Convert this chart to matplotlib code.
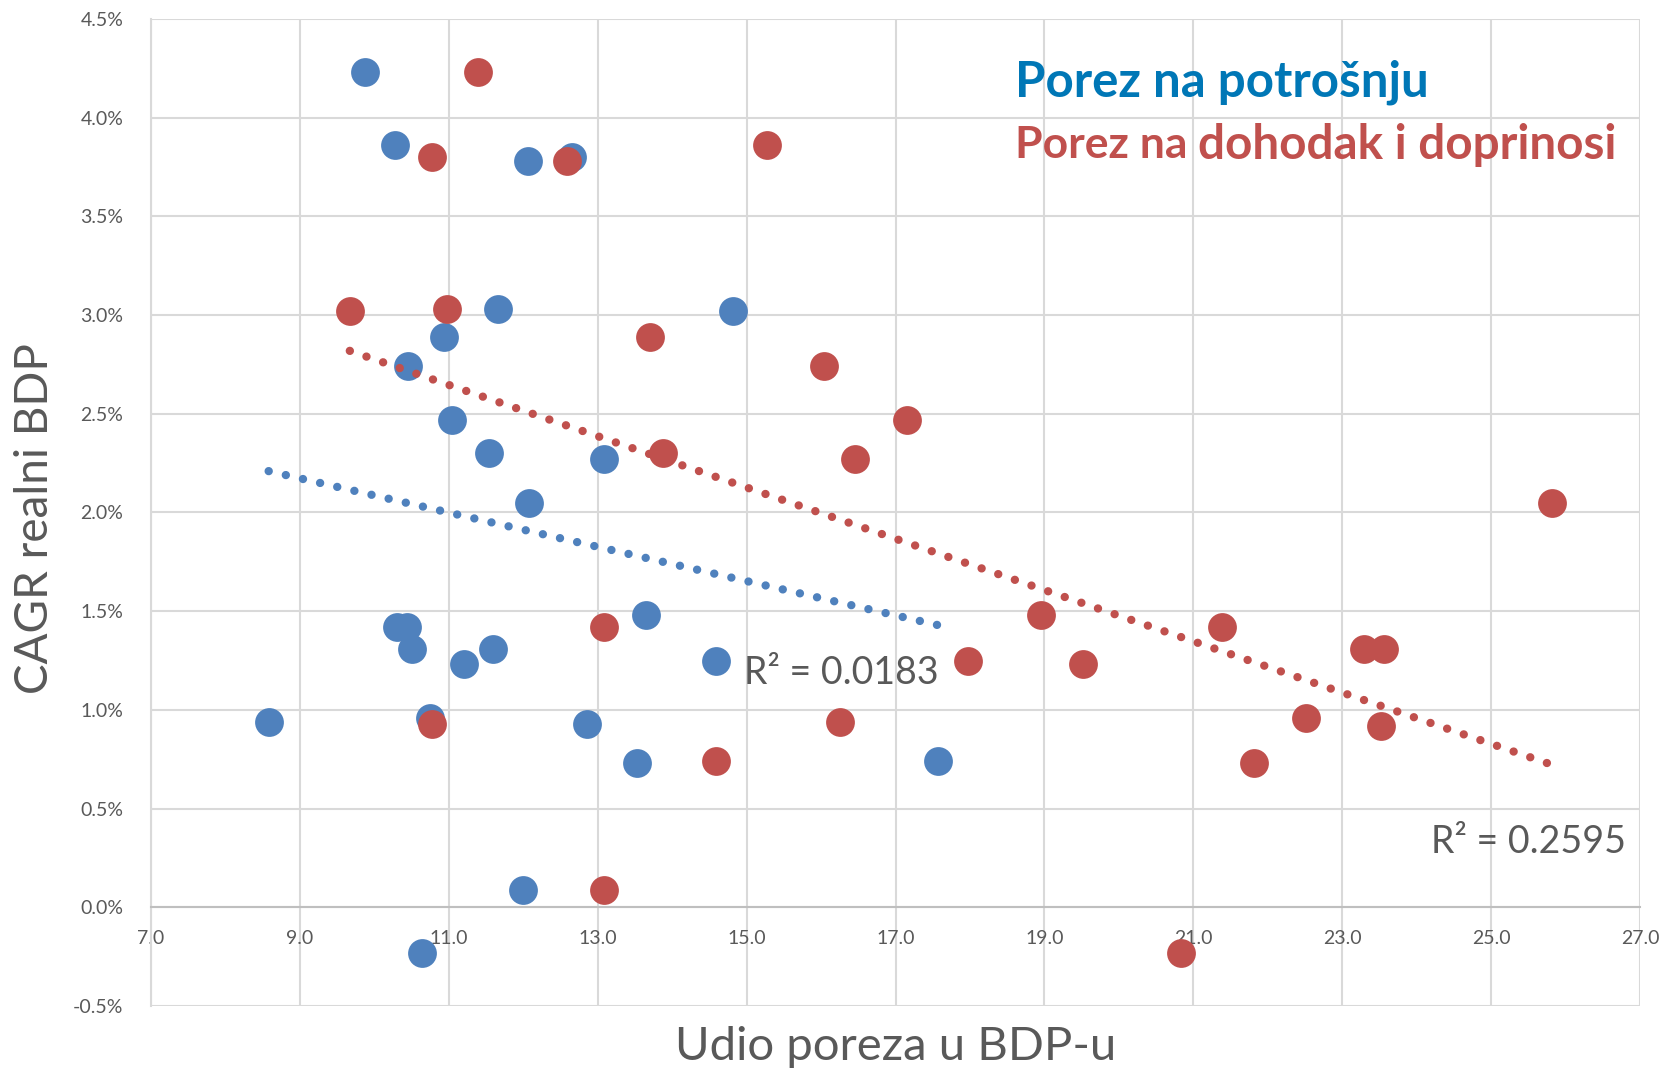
import numpy as np
import matplotlib.pyplot as plt
from matplotlib.ticker import FuncFormatter, MultipleLocator

plt.rcParams['font.family'] = ['Lato', 'DejaVu Sans']

# udio poreza u BDP-u (x) i CAGR realnog BDP-a u % (y)
potrosnja_x = [9.87, 10.28, 12.06, 12.65, 11.66, 14.82, 10.94, 10.45, 11.04, 11.54,
               13.08, 12.08, 10.31, 10.44, 10.50, 11.59, 11.21, 13.65, 14.59, 8.58,
               10.75, 12.85, 13.53, 17.57, 11.99, 10.64]
potrosnja_y = [4.23, 3.86, 3.78, 3.80, 3.03, 3.02, 2.89, 2.74, 2.47, 2.30,
               2.27, 2.05, 1.42, 1.42, 1.31, 1.31, 1.23, 1.48, 1.25, 0.94,
               0.96, 0.93, 0.73, 0.74, 0.09, -0.23]

dohodak_x = [11.39, 10.77, 12.59, 15.27, 9.67, 10.98, 13.70, 16.04, 17.16, 13.88,
             16.46, 25.82, 18.95, 13.09, 21.38, 23.29, 23.56, 17.97, 19.52, 16.26,
             10.77, 22.52, 23.52, 14.59, 21.82, 13.09, 20.84]
dohodak_y = [4.23, 3.80, 3.78, 3.86, 3.02, 3.03, 2.89, 2.74, 2.47, 2.30,
             2.27, 2.05, 1.48, 1.42, 1.42, 1.31, 1.31, 1.25, 1.23, 0.94,
             0.93, 0.96, 0.92, 0.74, 0.73, 0.09, -0.23]

x_ticks = [7, 9, 11, 13, 15, 17, 19, 21, 23, 25, 27]
r2_labels = ['R² = 0.0183', 'R² = 0.2595']

plava = '#4F81BD'
crvena = '#C0504D'
siva = '#595959'
mreza = '#D9D9D9'

fig = plt.figure(figsize=(16.67, 10.71), dpi=100)
ax = fig.add_axes([0.0906, 0.0607, 0.8932, 0.9216])

ax.set_xlim(7, 27)
ax.set_ylim(-0.5, 4.5)
ax.set_xticks(x_ticks)
ax.yaxis.set_major_locator(MultipleLocator(0.5))
ax.xaxis.set_major_formatter(FuncFormatter(lambda v, p: '%.1f' % v))
ax.yaxis.set_major_formatter(FuncFormatter(lambda v, p: '%.1f%%' % v))
ax.grid(True, color=mreza, linewidth=1.5)
ax.set_axisbelow(True)

for s in ['top', 'right']:
    ax.spines[s].set_visible(False)
ax.spines['left'].set_color(mreza)
ax.spines['left'].set_linewidth(1.5)
ax.spines['bottom'].set_position(('data', 0))
ax.spines['bottom'].set_color('#BFBFBF')
ax.spines['bottom'].set_linewidth(1.5)
ax.tick_params(length=0, labelsize=14, labelcolor=siva)
ax.tick_params(axis='y', pad=20)
ax.tick_params(axis='x', pad=16)

ax.scatter(potrosnja_x, potrosnja_y, s=430, color=plava, linewidths=0, zorder=3)
ax.scatter(dohodak_x, dohodak_y, s=430, color=crvena, linewidths=0, zorder=4)

# linearni trend
for xs, ys, c in [(potrosnja_x, potrosnja_y, plava), (dohodak_x, dohodak_y, crvena)]:
    k, b = np.polyfit(xs, ys, 1)
    xt = np.array([min(xs), max(xs)])
    ax.plot(xt, k * xt + b, color=c, linewidth=6, linestyle=(0, (0.01, 2.1)),
            dash_capstyle='round', zorder=5)

ax.text(14.96, 1.185, r2_labels[0], fontsize=27, color=siva, va='center', zorder=6)
ax.text(24.19, 0.33, r2_labels[1], fontsize=27, color=siva, va='center', zorder=6)

ax.text(18.6, 4.18, 'Porez na potrošnju', fontsize=35.5, fontweight='bold',
        color='#0077B6', va='center', zorder=6)
prvi_txt = ax.text(18.6, 3.86, 'Porez na ', fontsize=32, fontweight='bold',
                   color=crvena, va='center', zorder=6)
fig.canvas.draw()
prvi = prvi_txt.get_window_extent()
ax.text(prvi.x1, prvi.y0 + prvi.height / 2, 'dohodak i doprinosi',
        transform=None, fontsize=34.3, fontweight='bold', color=crvena,
        va='center', zorder=6)

fig.text(0.021, 0.516, 'CAGR realni BDP', rotation=90, fontsize=33, color=siva,
         ha='center', va='center')
fig.text(0.537, 0.022, 'Udio poreza u BDP-u', fontsize=34, color=siva,
         ha='center', va='center')

fig.savefig('out.png', dpi=100)
